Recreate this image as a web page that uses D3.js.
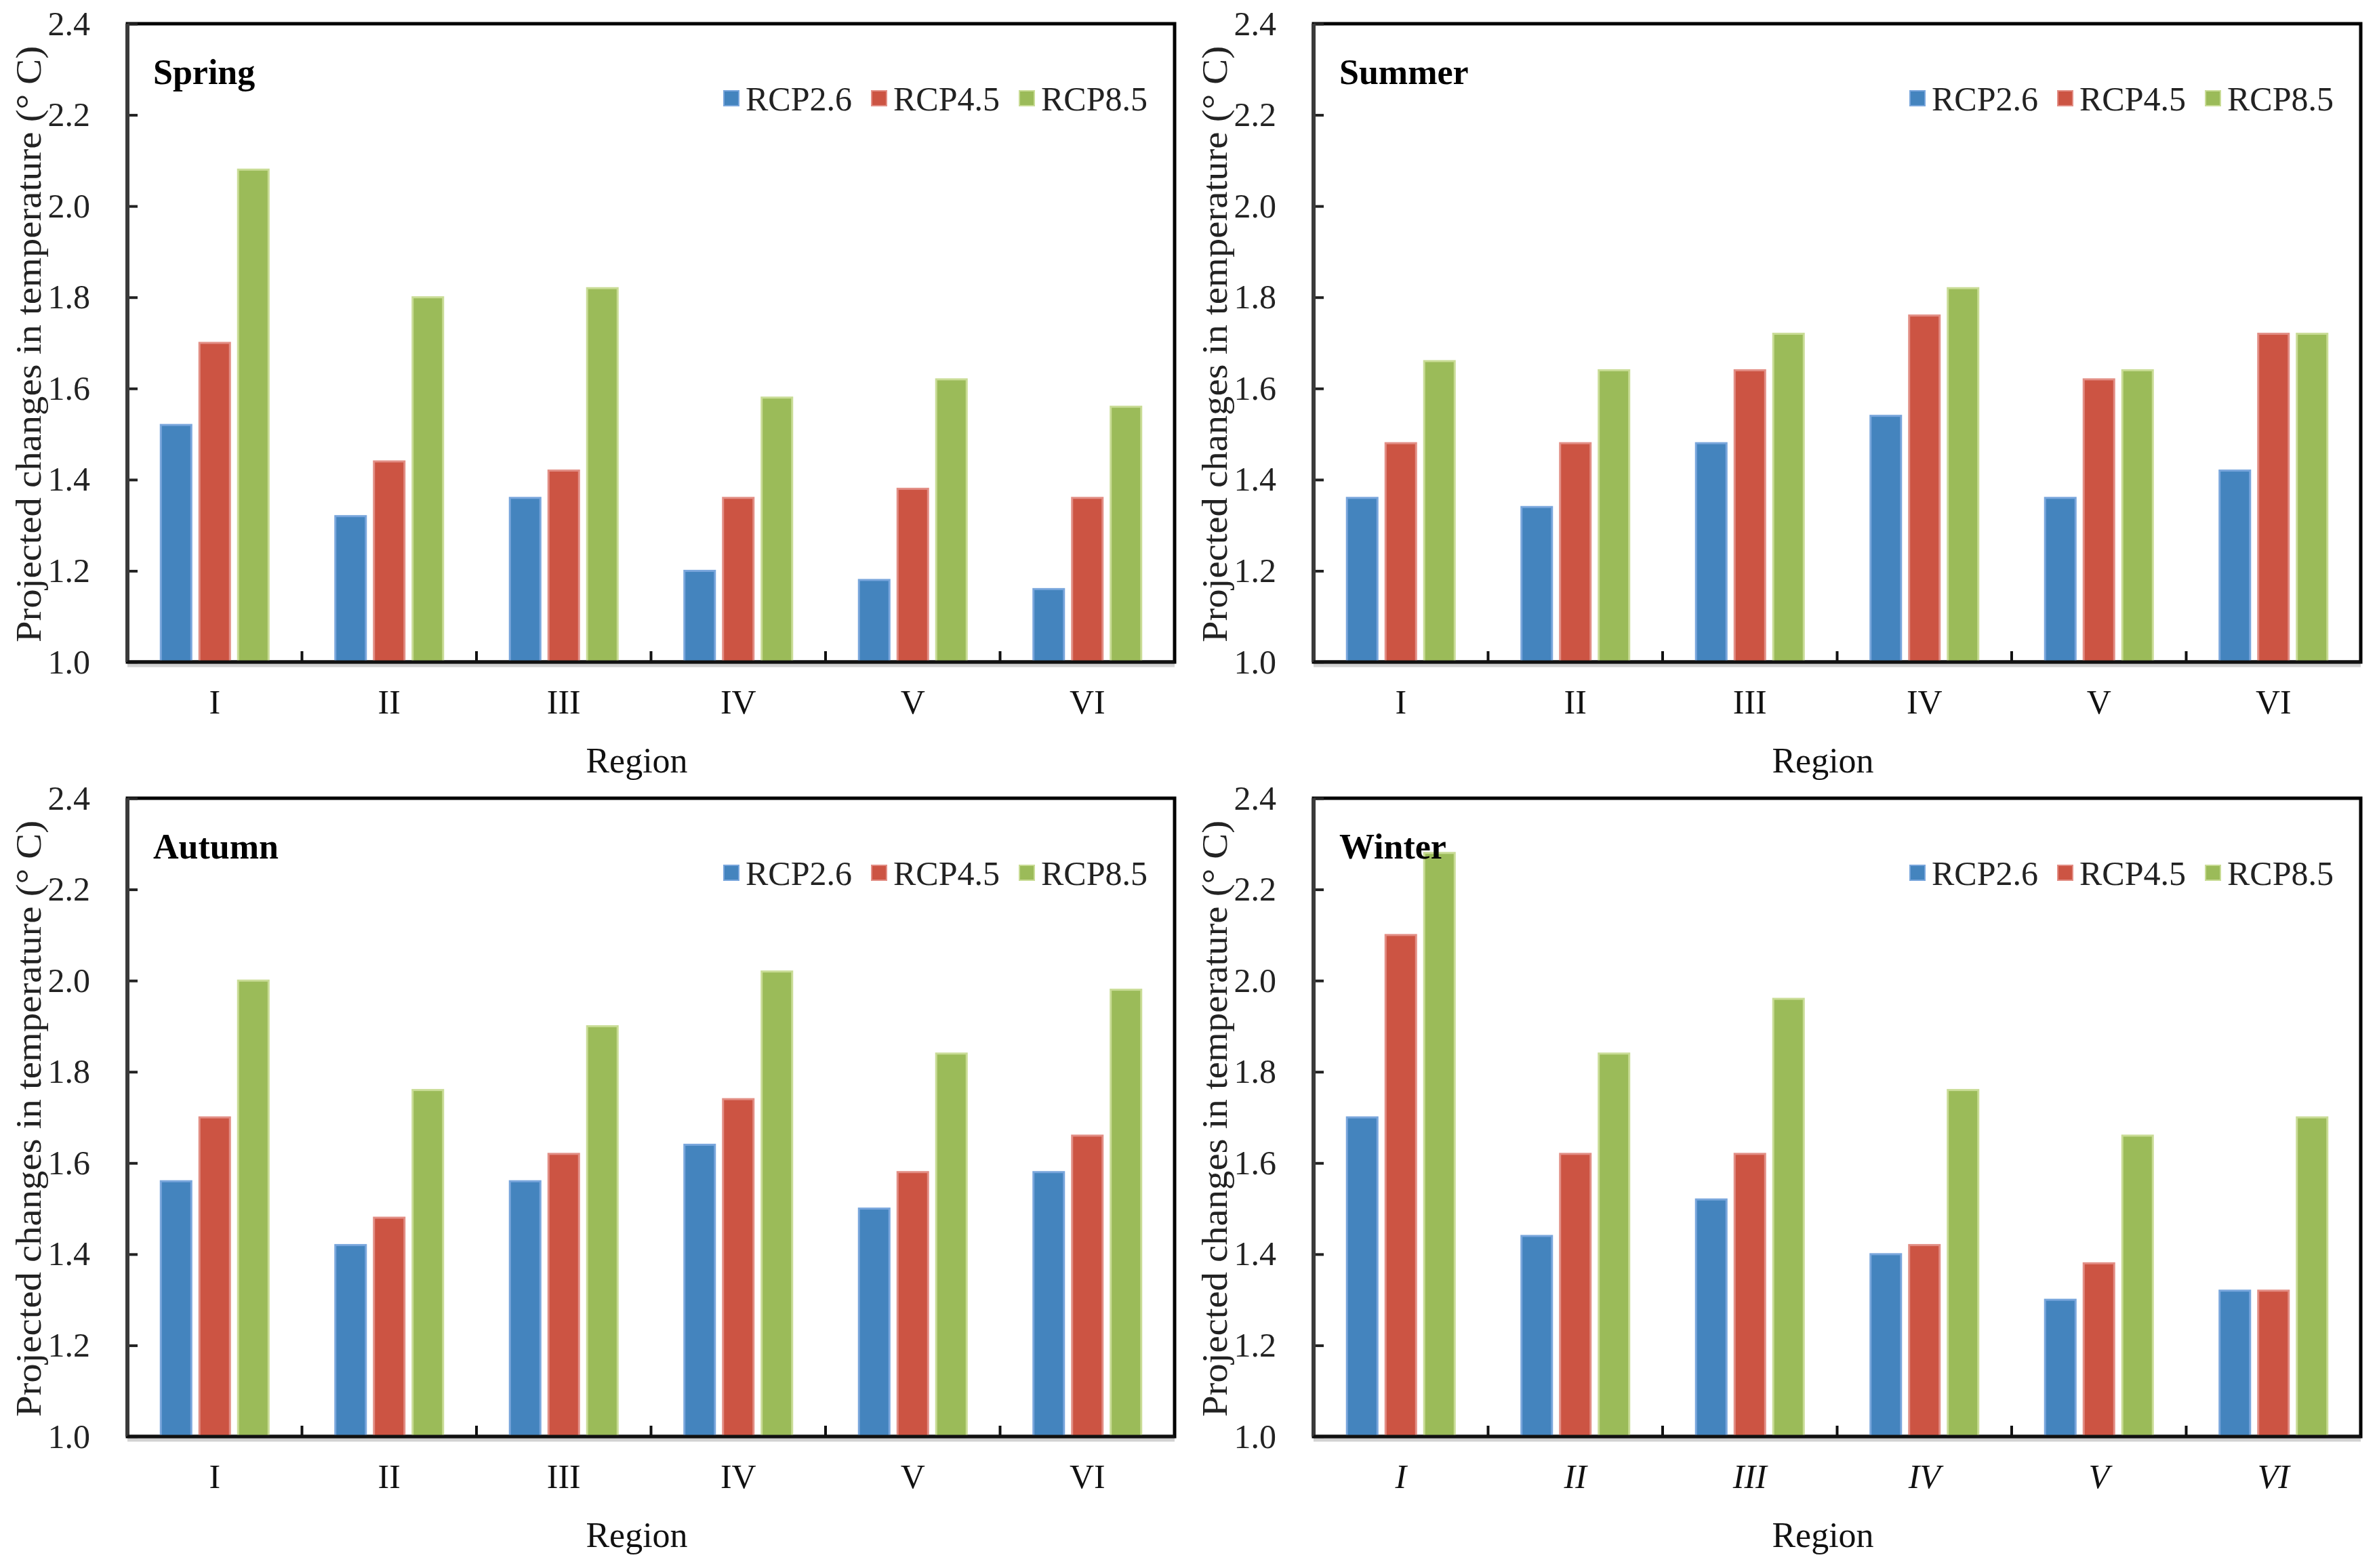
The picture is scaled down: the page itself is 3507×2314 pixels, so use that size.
<!DOCTYPE html>
<html><head><meta charset="utf-8">
<script src="https://cdn.jsdelivr.net/npm/d3@7"></script>
<style>html,body{margin:0;padding:0;background:#fff;} svg{display:block;} svg text{font-family:'Liberation Serif','Times New Roman',serif;}</style>
</head><body>
<script>
// ---- data ----
const regions = ["I", "II", "III", "IV", "V", "VI"];
const scenarios = ["RCP2.6", "RCP4.5", "RCP8.5"];
const seasons = ["Spring", "Summer", "Autumn", "Winter"];
const yTicks = [1.0, 1.2, 1.4, 1.6, 1.8, 2.0, 2.2, 2.4];

const springRcp26 = [1.52, 1.32, 1.36, 1.20, 1.18, 1.16];
const springRcp45 = [1.70, 1.44, 1.42, 1.36, 1.38, 1.36];
const springRcp85 = [2.08, 1.80, 1.82, 1.58, 1.62, 1.56];

const summerRcp26 = [1.36, 1.34, 1.48, 1.54, 1.36, 1.42];
const summerRcp45 = [1.48, 1.48, 1.64, 1.76, 1.62, 1.72];
const summerRcp85 = [1.66, 1.64, 1.72, 1.82, 1.64, 1.72];

const autumnRcp26 = [1.56, 1.42, 1.56, 1.64, 1.50, 1.58];
const autumnRcp45 = [1.70, 1.48, 1.62, 1.74, 1.58, 1.66];
const autumnRcp85 = [2.00, 1.76, 1.90, 2.02, 1.84, 1.98];

const winterRcp26 = [1.70, 1.44, 1.52, 1.40, 1.30, 1.32];
const winterRcp45 = [2.10, 1.62, 1.62, 1.42, 1.38, 1.32];
const winterRcp85 = [2.28, 1.84, 1.96, 1.76, 1.66, 1.70];

const seasonData = {
  Spring: [springRcp26, springRcp45, springRcp85],
  Summer: [summerRcp26, summerRcp45, summerRcp85],
  Autumn: [autumnRcp26, autumnRcp45, autumnRcp85],
  Winter: [winterRcp26, winterRcp45, winterRcp85]
};

// ---- style / layout ----
const W = 3507, H = 2314;
const FONT = "'Liberation Serif','Times New Roman',serif";
const fillColor = {"RCP2.6": "#4484BE", "RCP4.5": "#CC5443", "RCP8.5": "#9BBB59"};
const edgeColor = {"RCP2.6": "#79A6DC", "RCP4.5": "#E28E85", "RCP8.5": "#C9DC96"};
const panelLeft = [188, 1938], panelTop = [35, 1178];
const pw = 1545, ph = 942;

const svg = d3.select("body").append("svg").attr("width", W).attr("height", H)
  .style("font-family", FONT);
svg.append("rect").attr("width", W).attr("height", H).attr("fill", "#fff");

seasons.forEach((season, i) => {
  const x0 = panelLeft[i % 2], y0 = panelTop[Math.floor(i / 2)];
  const g = svg.append("g").attr("transform", `translate(${x0},${y0})`);

  const x = d3.scaleBand().domain(regions).range([0, pw]).padding(0);
  const xs = d3.scaleBand().domain(scenarios).range([0, x.bandwidth()])
    .paddingInner(0.21).paddingOuter(0.864);
  const y = d3.scaleLinear().domain([1.0, 2.4]).range([ph, 0]);

  // frame
  g.append("rect").attr("x", 0).attr("y", 0).attr("width", pw).attr("height", ph)
    .attr("fill", "none").attr("stroke", "#000").attr("stroke-width", 5);

  // bars
  const rows = [];
  regions.forEach((r, ri) => scenarios.forEach((s, si) => rows.push({r, s, v: seasonData[season][si][ri]})));
  g.append("g").selectAll("rect").data(rows).join("rect")
    .attr("x", d => x(d.r) + xs(d.s))
    .attr("y", d => y(d.v))
    .attr("width", xs.bandwidth())
    .attr("height", d => y(1.0) - y(d.v))
    .attr("fill", d => fillColor[d.s])
    .attr("stroke", d => edgeColor[d.s])
    .attr("stroke-width", 3);

  // y axis
  const ya = g.append("g").call(
    d3.axisLeft(y).tickValues(yTicks).tickSize(-15).tickPadding(55).tickFormat(d3.format(".1f")));
  ya.attr("font-family", FONT);
  ya.select(".domain").remove();
  ya.selectAll(".tick line").attr("stroke", "#222").attr("stroke-width", 4);
  ya.selectAll(".tick text").attr("font-size", 50).attr("fill", "#222").style("font-family", FONT);
  g.append("line").attr("x1", 0).attr("x2", 0).attr("y1", 0).attr("y2", ph)
    .attr("stroke", "#3a3a3a").attr("stroke-width", 6);

  // x axis labels
  const xa = g.append("g").attr("transform", `translate(0,${ph})`).call(
    d3.axisBottom(x).tickSize(0).tickPadding(40));
  xa.attr("font-family", FONT);
  xa.select(".domain").remove();
  xa.selectAll(".tick text").attr("font-size", 50).attr("fill", "#111").style("font-family", FONT)
    .attr("font-style", season === "Winter" ? "italic" : "normal");
  // ticks between groups
  g.append("g").selectAll("line").data(regions.slice(1)).join("line")
    .attr("x1", d => x(d)).attr("x2", d => x(d))
    .attr("y1", ph).attr("y2", ph - 16)
    .attr("stroke", "#111").attr("stroke-width", 4);
  // x axis line with shadow
  g.append("line").attr("x1", 0).attr("x2", pw).attr("y1", ph + 5).attr("y2", ph + 5)
    .attr("stroke", "#d2d2d2").attr("stroke-width", 5);
  g.append("line").attr("x1", 0).attr("x2", pw).attr("y1", ph).attr("y2", ph)
    .attr("stroke", "#111").attr("stroke-width", 5);

  // title
  g.append("text").attr("x", 38).attr("y", 89).attr("font-size", 52).attr("font-weight", "bold")
    .attr("fill", "#000").text(season);

  // legend
  const lg = g.append("g").selectAll("g").data(scenarios).join("g")
    .attr("transform", (d, j) => `translate(${880 + j * 218},110)`);
  lg.append("rect").attr("x", 0).attr("y", -11).attr("width", 22).attr("height", 22)
    .attr("fill", d => fillColor[d]).attr("stroke", d => edgeColor[d]).attr("stroke-width", 2);
  lg.append("text").attr("x", 32).attr("y", 0).attr("dy", "0.35em").attr("font-size", 50)
    .attr("fill", "#222").style("font-family", FONT).text(d => d);

  // y title
  g.append("text").attr("transform", `translate(-128,${ph / 2 + 2}) rotate(-90)`)
    .attr("text-anchor", "middle").attr("font-size", 52).attr("fill", "#222")
    .attr("textLength", 880).attr("lengthAdjust", "spacingAndGlyphs")
    .text("Projected  changes in temperature (\u00B0 C)");

  // x title
  g.append("text").attr("x", pw / 2 - 21).attr("y", ph + 163).attr("text-anchor", "middle")
    .attr("font-size", 52).attr("fill", "#111").text("Region");
});
</script>
</body></html>
